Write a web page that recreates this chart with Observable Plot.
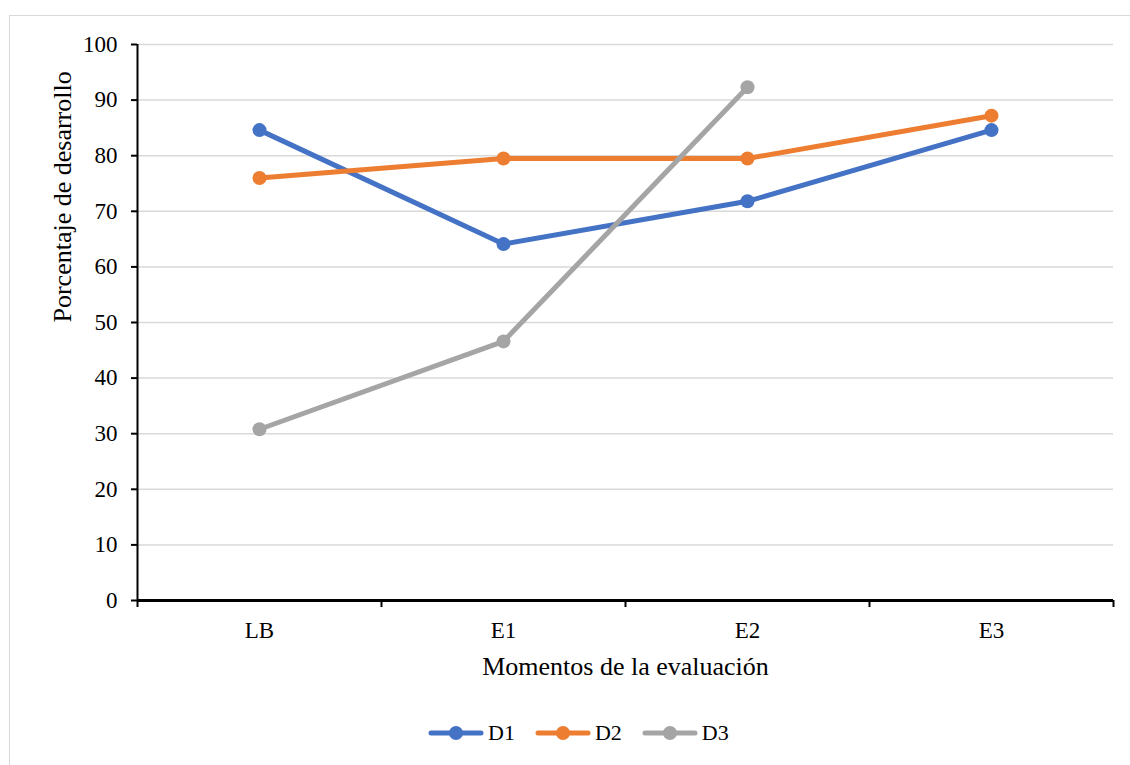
<!DOCTYPE html>
<html>
<head>
<meta charset="utf-8">
<script src="https://cdn.jsdelivr.net/npm/d3@7"></script>
<script src="https://cdn.jsdelivr.net/npm/@observablehq/plot@0.6"></script>
<style>
  html, body { margin: 0; padding: 0; background: #fff; }
  #chart { position: relative; width: 1130px; height: 765px; overflow: hidden; font-family: "Liberation Serif", "Times New Roman", serif; }
  #frame { position: absolute; left: 9px; top: 15px; width: 1300px; height: 900px; border: 1.5px solid #d9d9d9; box-sizing: border-box; }
  #plot { position: absolute; left: 0; top: 0; }
  #legend { position: absolute; left: 428px; top: 720px; display: flex; align-items: center; font-size: 22px; color: #000; }
  .item { display: flex; align-items: center; margin-right: 20px; }
  .item svg { margin-right: 4px; }
</style>
</head>
<body>
<div id="chart">
  <div id="frame"></div>
  <div id="plot"></div>
  <div id="legend"></div>
</div>
<script>
// Evaluation moments (categories) and development percentage for each dimension
const moments = ["LB", "E1", "E2", "E3"];
const seriesNames = ["D1", "D2", "D3"];
const valuesD1 = [84.6, 64.1, 71.8, 84.6];
const valuesD2 = [76.0, 79.5, 79.5, 87.2];
const valuesD3 = [30.8, 46.6, 92.3, null];
const colors = ["#4472C4", "#ED7D31", "#A5A5A5"];
const yTicks = [0, 10, 20, 30, 40, 50, 60, 70, 80, 90, 100];

const yLabel = "Porcentaje de desarrollo";
const xLabel = "Momentos de la evaluación";

// Long table: category index i is placed at the middle of its slot (i + 0.5)
const allValues = [valuesD1, valuesD2, valuesD3];
const rows = [];
seriesNames.forEach((s, k) => {
  allValues[k].forEach((v, i) => {
    if (v != null) rows.push({series: s, moment: moments[i], pos: i + 0.5, value: v});
  });
});

const boundaries = d3.range(moments.length + 1);
const centers = moments.map((_, i) => i + 0.5);
const serif = "'Liberation Serif', 'Times New Roman', serif";

const chart = Plot.plot({
  width: 1130,
  height: 700,
  marginLeft: 137,
  marginRight: 17,
  marginTop: 44,
  marginBottom: 100,
  style: {fontFamily: serif, color: "#000", background: "transparent"},
  x: {type: "linear", domain: [0, moments.length], axis: null},
  y: {domain: [0, 100], axis: null},
  color: {domain: seriesNames, range: colors},
  marks: [
    // horizontal gridlines
    Plot.ruleY(yTicks.filter(t => t > 0), {stroke: "#d9d9d9", strokeWidth: 1.5}),
    // y axis ticks and labels
    Plot.axisY({ticks: yTicks, tickSize: 6, tickPadding: 14, tickFormat: d3.format("d"), fontSize: 23, fontFamily: serif, stroke: "#000", strokeWidth: 2, label: null}),
    // x axis boundary ticks
    Plot.axisX({ticks: boundaries, tickSize: 7, tickFormat: () => "", stroke: "#000", strokeWidth: 2, label: null}),
    // x axis category labels
    Plot.axisX({ticks: centers, tickSize: 0, tickPadding: 21, tickFormat: d => moments[Math.round(d - 0.5)], fontSize: 23, fontFamily: serif, label: null}),
    // axis lines
    Plot.ruleX([0], {stroke: "#000", strokeWidth: 2}),
    Plot.ruleY([0], {stroke: "#000", strokeWidth: 3}),
    // series
    Plot.lineY(rows, {x: "pos", y: "value", z: "series", stroke: "series", strokeWidth: 5, strokeLinecap: "round", strokeLinejoin: "round"}),
    Plot.dot(rows, {x: "pos", y: "value", fill: "series", r: 7}),
    // axis titles
    Plot.text([yLabel], {frameAnchor: "left", dx: -75, rotate: -90, fontSize: 26, fontFamily: serif, fill: "#000"}),
    Plot.text([xLabel], {frameAnchor: "bottom", dy: 66, fontSize: 26, fontFamily: serif, fill: "#000", lineAnchor: "middle"})
  ]
});
document.getElementById("plot").appendChild(chart);

// Legend below the plot
const legend = d3.select("#legend");
seriesNames.forEach((s, k) => {
  const item = legend.append("div").attr("class", "item");
  const sw = item.append("svg").attr("width", 56).attr("height", 16);
  sw.append("line").attr("x1", 3).attr("x2", 53).attr("y1", 8).attr("y2", 8)
    .attr("stroke", colors[k]).attr("stroke-width", 5).attr("stroke-linecap", "round");
  sw.append("circle").attr("cx", 28).attr("cy", 8).attr("r", 7).attr("fill", colors[k]);
  item.append("span").text(s);
});
</script>
</body>
</html>
